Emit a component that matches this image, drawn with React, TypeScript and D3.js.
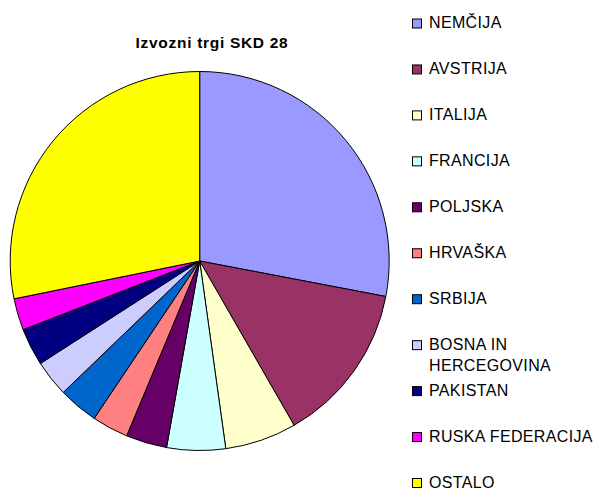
import React, { useEffect, useRef } from 'react';
import * as d3 from 'd3';

// export markets, share in %
const countries = [
  'NEMČIJA', 'AVSTRIJA', 'ITALIJA', 'FRANCIJA', 'POLJSKA', 'HRVAŠKA',
  'SRBIJA', 'BOSNA IN HERCEGOVINA', 'PAKISTAN', 'RUSKA FEDERACIJA', 'OSTALO',
];
const shares = [28.0, 13.7, 6.1, 5.0, 3.5, 3.1, 3.4, 3.1, 3.2, 2.7, 28.2];
const colors = [
  '#9999FF', '#993366', '#FFFFCC', '#CCFFFF', '#660066', '#FF8080',
  '#0066CC', '#CCCCFF', '#000080', '#FF00FF', '#FFFF00',
];
// legend labels, split the way the chart wraps them
const legendLines = [
  ['NEMČIJA'], ['AVSTRIJA'], ['ITALIJA'], ['FRANCIJA'], ['POLJSKA'], ['HRVAŠKA'],
  ['SRBIJA'], ['BOSNA IN', 'HERCEGOVINA'], ['PAKISTAN'], ['RUSKA FEDERACIJA'], ['OSTALO'],
];
const title = 'Izvozni trgi SKD 28';

const width = 601;
const height = 491;

const App = () => {
  const svgRef = useRef<SVGSVGElement>(null);

  useEffect(() => {
    const svg = d3.select(svgRef.current);
    svg.selectAll('*').remove();

    const font = '"Liberation Sans", Arial, sans-serif';
    const cx = 199.7, cy = 261, r = 189.5;

    const data = countries.map((name, i) => ({ name, value: shares[i], color: colors[i] }));

    const pie = d3.pie<any>().sort(null).value(d => d.value);
    const arc = d3.arc<any>().innerRadius(0).outerRadius(r);

    svg.append('g')
      .attr('transform', `translate(${cx},${cy})`)
      .selectAll('path')
      .data(pie(data))
      .join('path')
      .attr('d', arc)
      .attr('fill', d => d.data.color)
      .attr('stroke', '#000')
      .attr('stroke-width', 1)
      .attr('stroke-linejoin', 'round');

    svg.append('text')
      .attr('x', 212)
      .attr('y', 48)
      .attr('text-anchor', 'middle')
      .style('font-family', font)
      .style('font-size', '15.5px')
      .style('font-weight', 'bold')
      .style('letter-spacing', '0.7px')
      .text(title);

    // legend
    const first = 28, step = 45.95;
    const legend = svg.append('g');
    countries.forEach((c, i) => {
      const base = first + i * step;
      const item = legend.append('g');
      item.append('rect')
        .attr('x', 412.5)
        .attr('y', base - 9)
        .attr('width', 9)
        .attr('height', 9)
        .attr('fill', colors[i])
        .attr('stroke', '#000')
        .attr('stroke-width', 1);
      legendLines[i].forEach((line, j) => {
        item.append('text')
          .attr('x', 429)
          .attr('y', base + j * 21.7)
          .style('font-family', font)
          .style('font-size', '16px')
          .style('letter-spacing', '0.35px')
          .style('fill', '#000')
          .text(line);
      });
    });
  }, []);

  return (
    <div style={{ position: 'absolute', left: 0, top: 0, background: '#fff' }}>
      <svg ref={svgRef} width={width} height={height} />
    </div>
  );
};

export default App;
